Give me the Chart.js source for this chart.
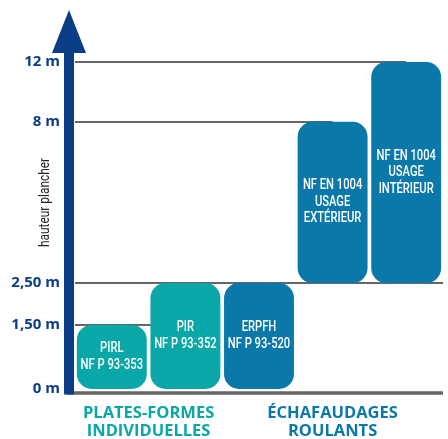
<!DOCTYPE html>
<html lang="fr">
<head>
  <meta charset="UTF-8">
  <title>Hauteur plancher</title>
  <script src="https://cdn.jsdelivr.net/npm/chart.js"></script>
  <style>
    html, body { margin: 0; padding: 0; background: #fff; }
    #wrap { width: 448px; height: 439px; }
  </style>
</head>
<body>

<div id="wrap"><canvas id="heightChart"></canvas></div>

<script>
  // Data (heights in metres)
  const categories = [
    ['PIRL', 'NF P 93-353'],
    ['PIR', 'NF P 93-352'],
    ['ERPFH', 'NF P 93-520'],
    ['NF EN 1004', 'USAGE', 'EXTÉRIEUR'],
    ['NF EN 1004', 'USAGE', 'INTÉRIEUR']
  ];
  const floorFrom = [0, 0, 0, 2.5, 2.5];
  const floorTo = [1.5, 2.5, 2.5, 8, 12];
  const yTicks = [0, 1.5, 2.5, 8, 12];
  const yTickLabels = ['0 m', '1,50 m', '2,50 m', '8 m', '12 m'];
  const groupNames = [['PLATES-FORMES', 'INDIVIDUELLES'], ['ÉCHAFAUDAGES', 'ROULANTS']];
  const groupOf = [0, 0, 1, 1, 1];

  // styling
  const groupColors = ['#0aa7a9', '#0b78aa'];
  const navy = '#0b3d86';
  const tickSpots = [0, 0.196, 0.324, 0.817, 1];   // where each tick sits on the axis (0 = bottom, 1 = top)
  const gridStop = [null, 1, null, 3, 4];            // bar that hides the end of each guide line
  const squeeze = 0.8;                               // condensed look for the bar captions

  // axis whose ticks are not evenly spaced
  class SteppedScale extends Chart.LinearScale {
    toDecimal(value) {
      for (let i = 1; i < yTicks.length; i++) {
        if (value <= yTicks[i] || i === yTicks.length - 1) {
          const t = (value - yTicks[i - 1]) / (yTicks[i] - yTicks[i - 1]);
          return tickSpots[i - 1] + t * (tickSpots[i] - tickSpots[i - 1]);
        }
      }
      return 0;
    }
    getPixelForValue(value) {
      return this.getPixelForDecimal(this.toDecimal(value));
    }
    getValueForPixel(pixel) {
      const d = this.getDecimalForPixel(pixel);
      for (let i = 1; i < tickSpots.length; i++) {
        if (d <= tickSpots[i] || i === tickSpots.length - 1) {
          const t = (d - tickSpots[i - 1]) / (tickSpots[i] - tickSpots[i - 1]);
          return yTicks[i - 1] + t * (yTicks[i] - yTicks[i - 1]);
        }
      }
      return 0;
    }
  }
  SteppedScale.id = 'stepped';
  SteppedScale.defaults = Chart.LinearScale.defaults;
  Chart.register(SteppedScale);

  const decorations = {
    id: 'decorations',
    beforeDatasetsDraw(chart) {
      const { ctx, chartArea, scales: { y } } = chart;
      const bars = chart.getDatasetMeta(0).data;
      ctx.save();
      ctx.strokeStyle = '#666';
      ctx.lineWidth = 2;
      yTicks.forEach((v, i) => {
        if (v === 0) return;
        const py = Math.round(y.getPixelForValue(v));
        const endX = gridStop[i] == null ? chartArea.right : bars[gridStop[i]].x;
        ctx.beginPath();
        ctx.moveTo(chartArea.left, py);
        ctx.lineTo(endX, py);
        ctx.stroke();
      });
      // ground line
      const py0 = y.getPixelForValue(0) + 4;
      ctx.lineWidth = 3.5;
      ctx.beginPath();
      ctx.moveTo(chartArea.left - 8, py0);
      ctx.lineTo(chartArea.right, py0);
      ctx.stroke();
      ctx.restore();
    },
    afterDatasetsDraw(chart) {
      const { ctx } = chart;
      const bars = chart.getDatasetMeta(0).data;
      ctx.save();
      ctx.fillStyle = '#fff';
      ctx.font = '500 14px Roboto, sans-serif';
      ctx.textAlign = 'center';
      ctx.textBaseline = 'middle';
      bars.forEach((bar, i) => {
        const lines = categories[i];
        const lh = 16.5;
        const yc = (bar.y + bar.base) / 2 - (lines.length - 1) * lh / 2;
        lines.forEach((t, k) => {
          ctx.save();
          ctx.translate(bar.x, yc + k * lh);
          ctx.scale(squeeze, 1);
          ctx.fillText(t, 0, 0);
          ctx.restore();
        });
      });
      ctx.restore();
    },
    afterDraw(chart) {
      const { ctx, chartArea, scales: { y } } = chart;
      const bars = chart.getDatasetMeta(0).data;
      const left = chartArea.left, top = chartArea.top;
      const bottom = y.getPixelForValue(0) + 5.5;
      ctx.save();
      // arrow axis
      ctx.fillStyle = navy;
      ctx.fillRect(left - 11, top - 12, 10, bottom - top + 12);
      ctx.beginPath();
      ctx.moveTo(left - 6, top - 52);
      ctx.lineTo(left + 11, top - 9);
      ctx.lineTo(left - 23, top - 9);
      ctx.closePath();
      ctx.fill();

      // axis title
      ctx.fillStyle = '#222';
      ctx.font = '14px Roboto, sans-serif';
      ctx.textAlign = 'center';
      ctx.textBaseline = 'middle';
      ctx.translate(45, (y.getPixelForValue(8) + y.getPixelForValue(2.5)) / 2);
      ctx.rotate(-Math.PI / 2);
      ctx.scale(0.85, 1);
      ctx.fillText('hauteur plancher', 0, 0);
      ctx.restore();

      // group names under the bars
      ctx.save();
      ctx.font = 'bold 16.5px "Open Sans", sans-serif';
      ctx.textAlign = 'center';
      ctx.textBaseline = 'middle';
      groupNames.forEach((lines, g) => {
        const members = bars.filter((b, i) => groupOf[i] === g);
        const x0 = members[0].x - members[0].width / 2;
        const x1 = members[members.length - 1].x + members[members.length - 1].width / 2;
        ctx.fillStyle = groupColors[g];
        lines.forEach((t, k) => ctx.fillText(t, (x0 + x1) / 2, chartArea.bottom + 24 + k * 18));
      });
      ctx.restore();
    }
  };

  new Chart(document.getElementById('heightChart'), {
    type: 'bar',
    data: {
      labels: categories,
      datasets: [{
        data: floorFrom.map((v, i) => [v, floorTo[i]]),
        backgroundColor: groupOf.map(g => groupColors[g]),
        borderRadius: 15,
        borderSkipped: false,
        barPercentage: 0.95,
        categoryPercentage: 1
      }]
    },
    options: {
      responsive: true,
      maintainAspectRatio: false,
      animation: false,
      layout: { padding: { top: 62, bottom: 50, right: 5, left: 0 } },
      plugins: {
        legend: { display: false },
        tooltip: { enabled: false }
      },
      scales: {
        x: { display: false },
        y: {
          type: 'stepped',
          min: 0,
          max: 12,
          afterBuildTicks: s => { s.ticks = yTicks.map(v => ({ value: v })); },
          afterFit: s => { s.width = 75; },
          border: { display: false },
          grid: { display: false, drawTicks: false },
          ticks: {
            padding: 15,
            color: navy,
            autoSkip: false,
            font: { family: '"Open Sans", sans-serif', size: 15, weight: 'bold' },
            callback: v => yTickLabels[yTicks.indexOf(v)]
          }
        }
      }
    },
    plugins: [decorations]
  });
</script>

</body>
</html>
